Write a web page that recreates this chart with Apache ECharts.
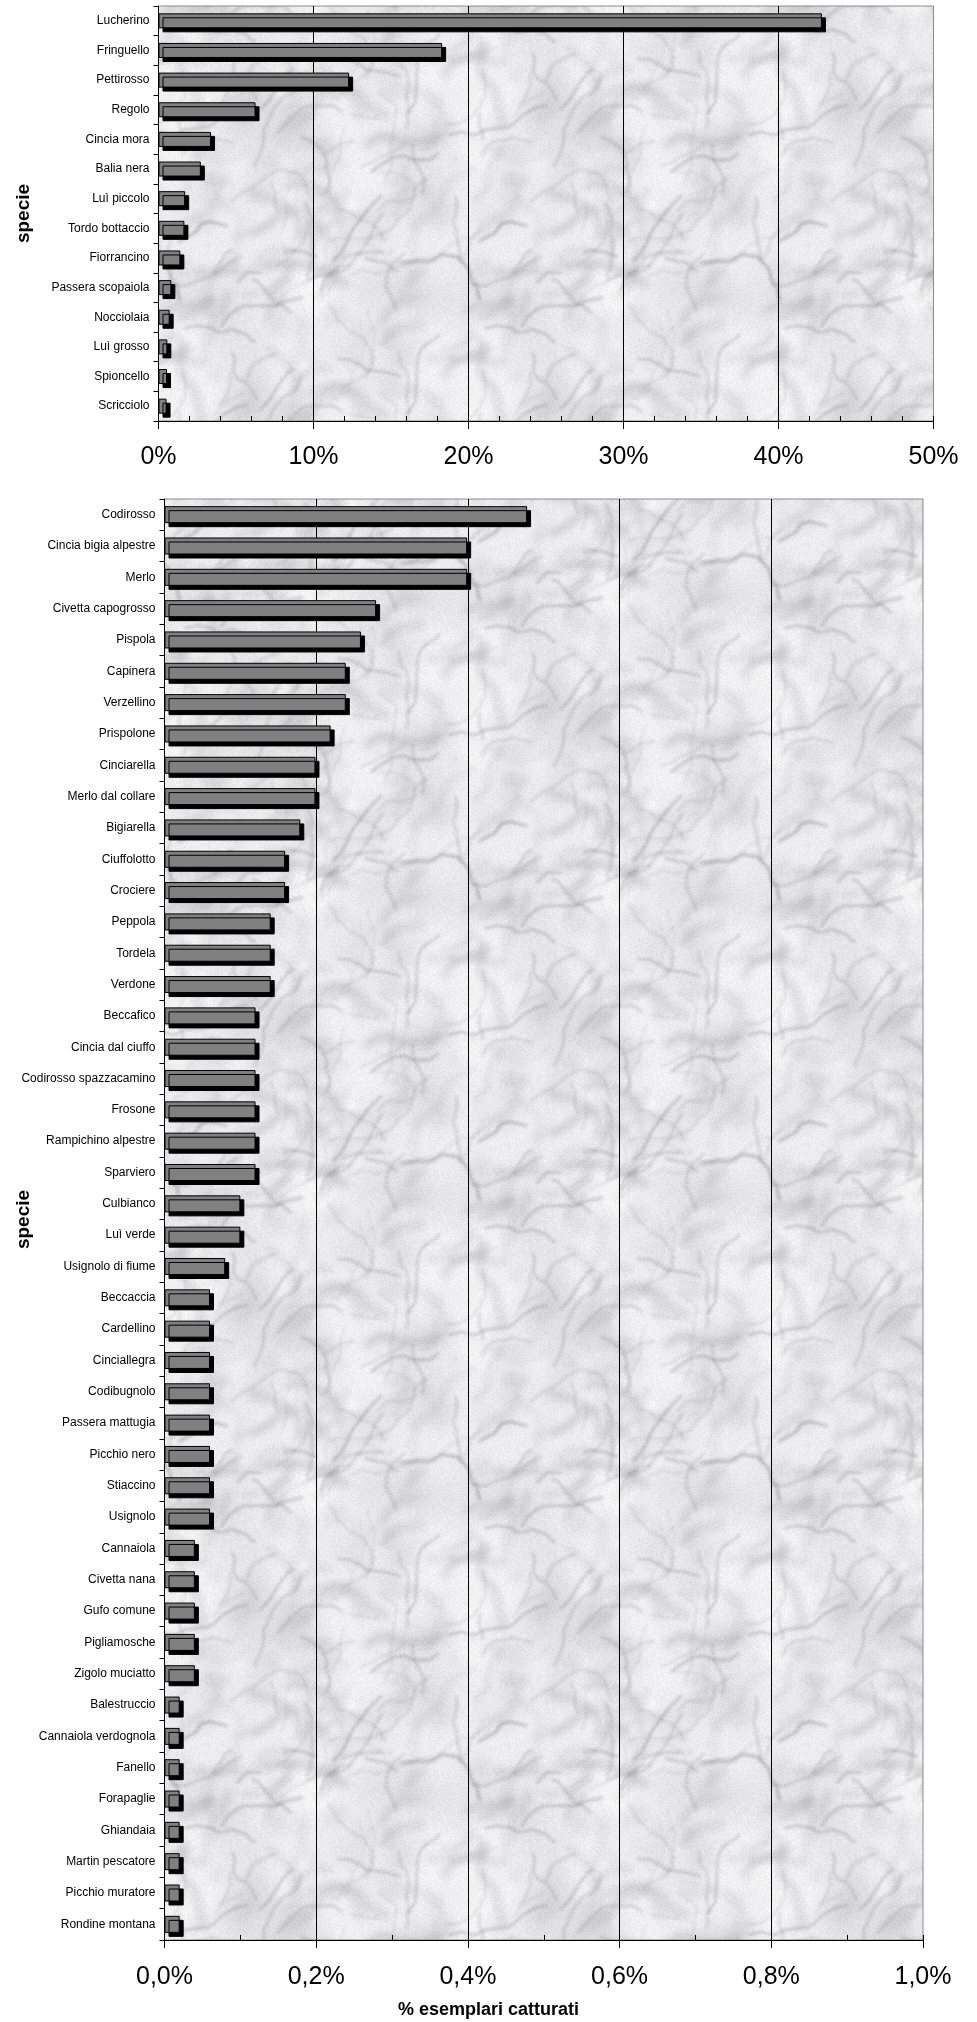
<!DOCTYPE html>
<html>
<head>
<meta charset="utf-8">
<script src="https://cdn.jsdelivr.net/npm/echarts@6/dist/echarts.min.js"></script>
<style>
  html, body { margin: 0; padding: 0; background: #ffffff; }
  #chart { width: 977px; height: 2022px; }
</style>
</head>
<body>
<div id="chart"></div>
<script>
// ---------- DATA ----------
const topSpecies = ['Lucherino','Fringuello','Pettirosso','Regolo','Cincia mora','Balia nera','Luì piccolo','Tordo bottaccio','Fiorrancino','Passera scopaiola','Nocciolaia','Luì grosso','Spioncello','Scricciolo'];
const topValues = [42.8, 18.3, 12.3, 6.26, 3.39, 2.73, 1.72, 1.67, 1.41, 0.83, 0.72, 0.57, 0.55, 0.52];

const bottomSpecies = ['Codirosso','Cincia bigia alpestre','Merlo','Civetta capogrosso','Pispola','Capinera','Verzellino','Prispolone','Cinciarella','Merlo dal collare','Bigiarella','Ciuffolotto','Crociere','Peppola','Tordela','Verdone','Beccafico','Cincia dal ciuffo','Codirosso spazzacamino','Frosone','Rampichino alpestre','Sparviero','Culbianco','Luì verde','Usignolo di fiume','Beccaccia','Cardellino','Cinciallegra','Codibugnolo','Passera mattugia','Picchio nero','Stiaccino','Usignolo','Cannaiola','Civetta nana','Gufo comune','Pigliamosche','Zigolo muciatto','Balestruccio','Cannaiola verdognola','Fanello','Forapaglie','Ghiandaia','Martin pescatore','Picchio muratore','Rondine montana'];
const bottomValues = [0.478, 0.399, 0.399, 0.279, 0.259, 0.239, 0.239, 0.219, 0.199, 0.199, 0.179, 0.159, 0.159, 0.140, 0.140, 0.140, 0.120, 0.120, 0.120, 0.120, 0.120, 0.120, 0.100, 0.100, 0.080, 0.060, 0.060, 0.060, 0.060, 0.060, 0.060, 0.060, 0.060, 0.040, 0.040, 0.040, 0.040, 0.040, 0.020, 0.020, 0.020, 0.020, 0.020, 0.020, 0.020, 0.020];

const topTicks = { min: 0, max: 50, interval: 10, minor: 2 };
const bottomTicks = { min: 0, max: 1, interval: 0.2, minor: 0.1 };

const yAxisTitle = 'specie';
const xAxisTitle = '% esemplari catturati';

// ---------- marble texture (decorative background) ----------
function makeMarble(size, seed) {
  const c = document.createElement('canvas');
  c.width = c.height = size;
  const g = c.getContext('2d');
  g.fillStyle = '#ededef';
  g.fillRect(0, 0, size, size);
  let s = seed;
  const rnd = () => (s = (s * 16807) % 2147483647) / 2147483647;
  const offs = [-size, 0, size];
  // soft clouds
  for (let i = 0; i < 110; i++) {
    const x = rnd() * size, y = rnd() * size, r = 8 + rnd() * 40, a = 0.05 + rnd() * 0.12;
    const light = rnd() < 0.4;
    for (const dx of offs) for (const dy of offs) {
      const gr = g.createRadialGradient(x + dx, y + dy, 0, x + dx, y + dy, r);
      if (light) {
        gr.addColorStop(0, 'rgba(255,255,255,' + Math.min(1, a * 3) + ')');
        gr.addColorStop(1, 'rgba(255,255,255,0)');
      } else {
        gr.addColorStop(0, 'rgba(145,145,152,' + a + ')');
        gr.addColorStop(1, 'rgba(145,145,152,0)');
      }
      g.fillStyle = gr;
      g.fillRect(x + dx - r, y + dy - r, 2 * r, 2 * r);
    }
  }
  // veins (blurred network, mostly lower-left to upper-right)
  g.lineCap = 'round';
  g.lineJoin = 'round';
  const passes = [{ blur: 3.5, wMin: 4, wVar: 6, aMin: 0.07, aVar: 0.13, n: 45 },
                  { blur: 1.5, wMin: 1.2, wVar: 2.2, aMin: 0.12, aVar: 0.25, n: 55 }];
  for (const ps of passes) {
    g.filter = 'blur(' + ps.blur + 'px)';
    for (let i = 0; i < ps.n; i++) {
      let x = rnd() * size, y = rnd() * size;
      const pts = [[x, y]];
      let ang = -Math.PI / 4 + (rnd() - 0.5) * 1.6;
      const n = 3 + Math.floor(rnd() * 7);
      for (let k = 0; k < n; k++) {
        ang += (rnd() - 0.5) * 1.4;
        const L = 5 + rnd() * 12;
        x += Math.cos(ang) * L; y += Math.sin(ang) * L;
        pts.push([x, y]);
      }
      const w = ps.wMin + rnd() * ps.wVar, a = ps.aMin + rnd() * ps.aVar;
      g.strokeStyle = 'rgba(105,105,112,' + a + ')';
      g.lineWidth = w;
      for (const dx of offs) for (const dy of offs) {
        g.beginPath();
        g.moveTo(pts[0][0] + dx, pts[0][1] + dy);
        for (let k = 1; k < pts.length; k++) g.lineTo(pts[k][0] + dx, pts[k][1] + dy);
        g.stroke();
      }
    }
  }
  g.filter = 'none';
  const img = g.getImageData(0, 0, size, size);
  const d = img.data;
  for (let p = 0; p < d.length; p += 4) {
    const nz = (rnd() - 0.5) * 16;
    d[p] += nz; d[p + 1] += nz; d[p + 2] += nz;
  }
  g.putImageData(img, 0, 0);
  return c;
}
const marble = makeMarble(300, 12345);

// ---------- CHART ----------
const FONT = '"Liberation Sans", Arial, Helvetica, sans-serif';
const chart = echarts.init(document.getElementById('chart'), null, { renderer: 'canvas' });

function catAxis(gridIndex, data, gap) {
  return {
    type: 'category', gridIndex: gridIndex, data: data, inverse: true,
    axisLine: { show: true, lineStyle: { color: '#000', width: 1 } },
    axisTick: { show: true, interval: 0, length: 5, lineStyle: { color: '#000' } },
    axisLabel: { interval: 0, fontSize: 12, color: '#000', fontFamily: FONT, margin: 9 },
    splitLine: { show: false },
    name: yAxisTitle, nameLocation: 'middle', nameRotate: 90, nameGap: gap, nameMoveOverlap: false,
    nameTextStyle: { fontSize: 19, fontWeight: 'bold', color: '#000', fontFamily: FONT }
  };
}
function valAxis(gridIndex, t, fmt, margin) {
  return {
    type: 'value', gridIndex: gridIndex, position: 'bottom',
    min: t.min, max: t.max, interval: t.interval,
    axisLine: { show: true, lineStyle: { color: '#000', width: 1 } },
    axisTick: { show: true, length: 8, lineStyle: { color: '#000' } },
    axisLabel: { formatter: fmt, fontSize: 25, color: '#000', fontFamily: FONT, margin: margin },
    splitLine: { show: true, showMinLine: false, showMaxLine: false, lineStyle: { color: '#000', width: 1 } }
  };
}
function minorAxis(gridIndex, t) {
  return {
    type: 'value', gridIndex: gridIndex, position: 'bottom', offset: 0,
    min: t.min, max: t.max, interval: t.minor,
    axisLine: { show: false },
    axisTick: { show: true, inside: true, length: 5, lineStyle: { color: '#000' } },
    axisLabel: { show: false },
    splitLine: { show: false }
  };
}
const barStyle = {
  color: '#808080', borderColor: '#000', borderWidth: 1,
  shadowColor: '#000', shadowOffsetX: 4, shadowOffsetY: 4, shadowBlur: 0
};

chart.setOption({
  animation: false,
  backgroundColor: '#ffffff',
  textStyle: { fontFamily: FONT },
  title: {
    text: xAxisTitle, left: 'center', top: 2001, padding: 0,
    textStyle: { fontSize: 18, fontWeight: 'bold', color: '#000', fontFamily: FONT }
  },
  grid: [
    { left: 158.5, top: 6, width: 775, height: 415, show: true, outerBoundsMode: 'none', containLabel: false,
      backgroundColor: { image: marble, repeat: 'repeat' }, borderColor: '#8a8a8a', borderWidth: 1 },
    { left: 164.5, top: 499, width: 758.5, height: 1441, show: true, outerBoundsMode: 'none', containLabel: false,
      backgroundColor: { image: marble, repeat: 'repeat' }, borderColor: '#8a8a8a', borderWidth: 1 }
  ],
  xAxis: [
    valAxis(0, topTicks, v => v + '%', 24),
    valAxis(1, bottomTicks, v => v.toFixed(1).replace('.', ',') + '%', 24.5),
    minorAxis(0, topTicks),
    minorAxis(1, bottomTicks)
  ],
  yAxis: [
    catAxis(0, topSpecies, 125),
    catAxis(1, bottomSpecies, 131)
  ],
  series: [
    { type: 'bar', xAxisIndex: 0, yAxisIndex: 0, data: topValues, barWidth: 15, itemStyle: barStyle, silent: true },
    { type: 'bar', xAxisIndex: 1, yAxisIndex: 1, data: bottomValues, barWidth: 17, itemStyle: barStyle, silent: true }
  ]
});
</script>
</body>
</html>
